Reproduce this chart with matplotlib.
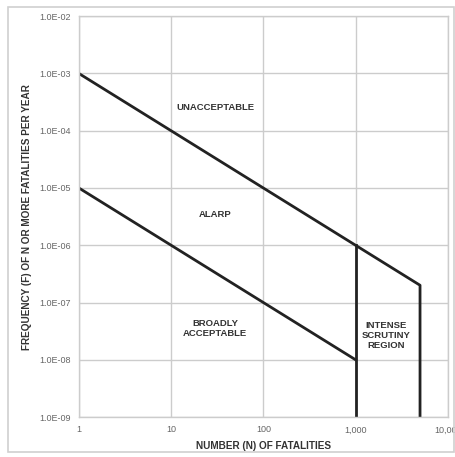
import numpy as np
import matplotlib.pyplot as plt
from matplotlib.patches import Rectangle

# F-N criterion lines
upper_n = [1, 1000, 5000, 5000]
upper_f = [1e-3, 1e-6, 2e-7, 1e-9]
lower_n = [1, 1000]
lower_f = [1e-5, 1e-8]
scrutiny_n = [1000, 1000]
scrutiny_f = [1e-6, 1e-9]

x_ticks = [1, 10, 100, 1000, 10000]
x_labels = ["1", "10", "100", "1,000", "10,000"]
y_ticks = [1e-9, 1e-8, 1e-7, 1e-6, 1e-5, 1e-4, 1e-3, 1e-2]
y_labels = ["1.0E-09", "1.0E-08", "1.0E-07", "1.0E-06", "1.0E-05", "1.0E-04", "1.0E-03", "1.0E-02"]

regions = ["UNACCEPTABLE", "ALARP", "BROADLY\nACCEPTABLE", "INTENSE\nSCRUTINY\nREGION"]
region_n = [30, 30, 30, 2150]
region_f = [10**-3.59, 10**-5.47, 10**-7.46, 10**-7.58]

plt.rcParams['font.family'] = ['Liberation Sans Narrow', 'Liberation Sans', 'DejaVu Sans']

fig = plt.figure(figsize=(4.56, 4.57), dpi=100)
fig.patches.append(Rectangle((0.018, 0.01), 0.978, 0.975, transform=fig.transFigure,
                             fill=False, edgecolor="#d0d0d0", linewidth=1.2))
ax = fig.add_axes([0.173, 0.0875, 0.809, 0.877])

ax.set_xscale("log")
ax.set_yscale("log")
ax.set_xlim(1, 10000)
ax.set_ylim(1e-9, 1e-2)

ax.plot(upper_n, upper_f, color="#222222", linewidth=2)
ax.plot(lower_n, lower_f, color="#222222", linewidth=2)
ax.plot(scrutiny_n, scrutiny_f, color="#222222", linewidth=2)

for label, n, f in zip(regions, region_n, region_f):
    ax.text(n, f, label, ha="center", va="center", fontsize=6.8,
            fontweight="bold", color="#333333", linespacing=1.15)

ax.set_xticks(x_ticks)
ax.set_xticklabels(x_labels)
ax.set_yticks(y_ticks)
ax.set_yticklabels(y_labels)
ax.minorticks_off()
ax.tick_params(length=0, labelsize=6.5, labelcolor="#666666", pad=6)
ax.grid(True, color="#cccccc", linewidth=1)
for s in ax.spines.values():
    s.set_color("#cccccc")
    s.set_linewidth(1)

ax.set_xlabel("NUMBER (N) OF FATALITIES", fontsize=7.2, fontweight="bold", color="#333333", labelpad=5)
ax.set_ylabel("FREQUENCY (F) OF N OR MORE FATALITIES PER YEAR", fontsize=7.2,
              fontweight="bold", color="#333333", labelpad=5)

fig.savefig("out.png", dpi=100)
